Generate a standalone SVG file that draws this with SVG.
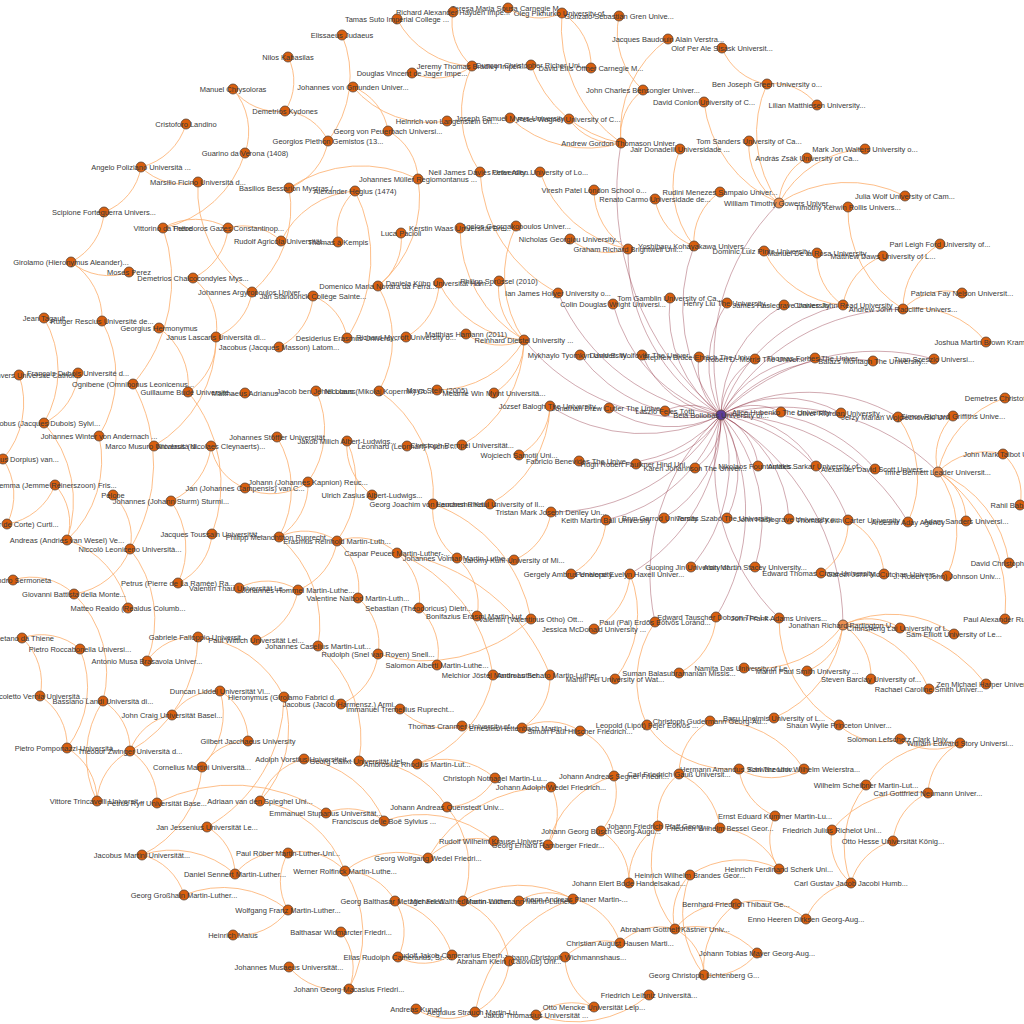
<svg xmlns="http://www.w3.org/2000/svg" width="1024" height="1024" viewBox="0 0 1024 1024">
<style>
.e{fill:none;stroke:#fdae6b;stroke-width:1;opacity:.8}
.m{fill:none;stroke:#8c2d3f;stroke-width:.9;opacity:.45}
.n circle{fill:#d95f0e;stroke:#5a4334;stroke-width:.8}
.n.h circle{fill:#ec8f4f}
.n.b circle{fill:#5e3c99}
.n text{font-family:"Liberation Sans",Arial,sans-serif;font-size:7.5px;fill:#3a3a3a;text-anchor:middle}
</style>
<rect width="1024" height="1024" fill="#fff"/>
<g id="connectors">
<path class="m" d="M721 415A290 290 0 0 1 621 143"/>
<path class="m" d="M721 415A190 190 0 0 1 628 249"/>
<path class="m" d="M721 415A171 171 0 0 1 694 246"/>
<path class="m" d="M721 415A220 220 0 0 1 779 203"/>
<path class="m" d="M721 415A204 204 0 0 1 558 293"/>
<path class="m" d="M721 415A155 155 0 0 1 613 304"/>
<path class="m" d="M721 415A128 128 0 0 1 670 298"/>
<path class="m" d="M721 415A112 112 0 0 1 727 303"/>
<path class="m" d="M721 415A127 127 0 0 1 784 305"/>
<path class="m" d="M721 415A164 164 0 0 1 843 305"/>
<path class="m" d="M721 415A211 211 0 0 1 903 309"/>
<path class="m" d="M721 415A211 211 0 0 1 524 340"/>
<path class="m" d="M721 415A153 153 0 0 1 580 355"/>
<path class="m" d="M721 415A99 99 0 0 1 642 355"/>
<path class="m" d="M721 415A62 62 0 0 1 699 357"/>
<path class="m" d="M721 415A66 66 0 0 1 755 359"/>
<path class="m" d="M721 415A110 110 0 0 1 815 358"/>
<path class="m" d="M721 415A161 161 0 0 1 873 361"/>
<path class="m" d="M721 415A220 220 0 0 1 934 359"/>
<path class="m" d="M721 415A171 171 0 0 1 550 406"/>
<path class="m" d="M721 415A112 112 0 0 1 609 408"/>
<path class="m" d="M721 415A60 60 0 0 1 781 412"/>
<path class="m" d="M721 415A120 120 0 0 1 841 413"/>
<path class="m" d="M721 415A177 177 0 0 1 898 417"/>
<path class="m" d="M721 415A224 224 0 0 1 938 472"/>
<path class="m" d="M721 415A163 163 0 0 1 875 469"/>
<path class="m" d="M721 415A108 108 0 0 1 816 466"/>
<path class="m" d="M721 415A63 63 0 0 1 758 466"/>
<path class="m" d="M721 415A59 59 0 0 1 695 468"/>
<path class="m" d="M721 415A149 149 0 0 1 579 461"/>
<path class="m" d="M721 415A98 98 0 0 1 636 464"/>
<path class="m" d="M721 415A196 196 0 0 1 551 512"/>
<path class="m" d="M721 415A156 156 0 0 1 606 520"/>
<path class="m" d="M721 415A118 118 0 0 1 664 518"/>
<path class="m" d="M721 415A103 103 0 0 1 727 518"/>
<path class="m" d="M721 415A124 124 0 0 1 789 519"/>
<path class="m" d="M721 415A165 165 0 0 1 848 520"/>
<path class="m" d="M721 415A215 215 0 0 1 908 522"/>
<path class="m" d="M721 415A155 155 0 0 1 691 567"/>
<path class="m" d="M721 415A156 156 0 0 1 755 567"/>
<path class="m" d="M721 415A183 183 0 0 1 630 574"/>
<path class="m" d="M721 415A243 243 0 0 1 843 625"/>
<path class="m" d="M721 415A202 202 0 0 1 716 617"/>
<path class="m" d="M655 622A217 217 0 0 1 721 415"/>
<path class="m" d="M665 411A56 56 0 0 1 721 415"/>
<path class="m" d="M779 618A211 211 0 0 1 721 415"/>
<path class="e" d="M621 143A114 114 0 0 1 668 39"/>
<path class="e" d="M621 143A57 57 0 0 1 643 90"/>
<path class="e" d="M621 143A143 143 0 0 1 562 13"/>
<path class="e" d="M621 143A119 119 0 0 1 531 65"/>
<path class="e" d="M621 143A57 57 0 0 1 569 119"/>
<path class="e" d="M621 143A114 114 0 0 1 510 118"/>
<path class="e" d="M643 90A78 78 0 0 1 619 16"/>
<path class="e" d="M562 13A54 54 0 0 1 508 8"/>
<path class="e" d="M562 13A62 62 0 0 1 591 68"/>
<path class="e" d="M628 249A68 68 0 0 1 594 190"/>
<path class="e" d="M628 249A59 59 0 0 1 570 239"/>
<path class="e" d="M628 249A117 117 0 0 1 540 172"/>
<path class="e" d="M694 246A60 60 0 0 1 720 192"/>
<path class="e" d="M694 246A61 61 0 0 1 655 199"/>
<path class="e" d="M694 246A98 98 0 0 1 680 149"/>
<path class="e" d="M779 203A126 126 0 0 1 704 102"/>
<path class="e" d="M779 203A69 69 0 0 1 749 141"/>
<path class="e" d="M779 203A120 120 0 0 1 767 84"/>
<path class="e" d="M779 203A53 53 0 0 1 807 158"/>
<path class="e" d="M779 203A102 102 0 0 1 865 149"/>
<path class="e" d="M779 203A126 126 0 0 1 905 196"/>
<path class="e" d="M767 84A58 58 0 0 1 722 48"/>
<path class="e" d="M767 84A54 54 0 0 1 817 105"/>
<path class="e" d="M843 305A63 63 0 0 1 883 256"/>
<path class="e" d="M843 305A58 58 0 0 1 817 253"/>
<path class="e" d="M843 305A96 96 0 0 1 764 251"/>
<path class="e" d="M903 309A75 75 0 0 1 940 244"/>
<path class="e" d="M903 309A61 61 0 0 1 962 293"/>
<path class="e" d="M903 309A89 89 0 0 1 986 342"/>
<path class="e" d="M903 309A116 116 0 0 1 848 207"/>
<path class="e" d="M558 293A144 144 0 0 1 480 172"/>
<path class="e" d="M480 172A106 106 0 0 1 472 66"/>
<path class="e" d="M472 66A88 88 0 0 1 397 19"/>
<path class="e" d="M472 66A57 57 0 0 1 453 12"/>
<path class="e" d="M472 66A60 60 0 0 1 412 73"/>
<path class="e" d="M524 340A102 102 0 0 1 439 283"/>
<path class="e" d="M524 340A64 64 0 0 1 499 281"/>
<path class="e" d="M524 340A58 58 0 0 1 466 334"/>
<path class="e" d="M524 340A100 100 0 0 1 437 390"/>
<path class="e" d="M524 340A61 61 0 0 1 494 393"/>
<path class="e" d="M524 340A129 129 0 0 1 460 228"/>
<path class="e" d="M524 340A114 114 0 0 1 516 226"/>
<path class="e" d="M524 340A122 122 0 0 1 462 445"/>
<path class="e" d="M439 283A63 63 0 0 1 406 337"/>
<path class="e" d="M550 406A58 58 0 0 1 519 455"/>
<path class="e" d="M550 406A115 115 0 0 1 490 504"/>
<path class="e" d="M551 512A61 61 0 0 1 514 560"/>
<path class="e" d="M606 520A64 64 0 0 1 571 574"/>
<path class="e" d="M630 574A66 66 0 0 1 594 629"/>
<path class="e" d="M630 574A106 106 0 0 1 615 679"/>
<path class="e" d="M716 617A67 67 0 0 1 679 673"/>
<path class="e" d="M848 520A60 60 0 0 1 821 573"/>
<path class="e" d="M848 520A65 65 0 0 1 884 574"/>
<path class="e" d="M938 472A100 100 0 0 1 1005 398"/>
<path class="e" d="M938 472A58 58 0 0 1 953 416"/>
<path class="e" d="M938 472A67 67 0 0 1 1003 454"/>
<path class="e" d="M938 472A56 56 0 0 1 966 521"/>
<path class="e" d="M938 472A104 104 0 0 1 947 576"/>
<path class="e" d="M938 472A115 115 0 0 1 1009 563"/>
<path class="e" d="M938 472A162 162 0 0 1 1005 619"/>
<path class="e" d="M1003 454A54 54 0 0 1 1020 505"/>
<path class="e" d="M898 417A105 105 0 0 1 908 522"/>
<path class="e" d="M843 625A57 57 0 0 1 900 628"/>
<path class="e" d="M843 625A111 111 0 0 1 954 634"/>
<path class="e" d="M843 625A58 58 0 0 1 807 671"/>
<path class="e" d="M843 625A61 61 0 0 1 871 679"/>
<path class="e" d="M843 625A107 107 0 0 1 929 689"/>
<path class="e" d="M843 625A155 155 0 0 1 986 684"/>
<path class="e" d="M843 625A108 108 0 0 1 744 668"/>
<path class="e" d="M843 625A116 116 0 0 1 774 718"/>
<path class="e" d="M647 725A103 103 0 0 1 655 622"/>
<path class="e" d="M739 769A102 102 0 0 1 647 725"/>
<path class="e" d="M804 769A65 65 0 0 1 739 769"/>
<path class="e" d="M775 816A59 59 0 0 1 739 769"/>
<path class="e" d="M710 721A106 106 0 0 1 804 769"/>
<path class="e" d="M679 774A61 61 0 0 1 710 721"/>
<path class="e" d="M779 869A53 53 0 0 1 775 816"/>
<path class="e" d="M720 828A72 72 0 0 1 779 869"/>
<path class="e" d="M690 875A89 89 0 0 1 779 869"/>
<path class="e" d="M679 774A68 68 0 0 1 720 828"/>
<path class="e" d="M658 826A56 56 0 0 1 679 774"/>
<path class="e" d="M675 929A104 104 0 0 1 658 826"/>
<path class="e" d="M629 883A64 64 0 0 1 658 826"/>
<path class="e" d="M601 831A59 59 0 0 1 629 883"/>
<path class="e" d="M614 776A57 57 0 0 1 601 831"/>
<path class="e" d="M548 845A95 95 0 0 1 614 776"/>
<path class="e" d="M580 731A56 56 0 0 1 614 776"/>
<path class="e" d="M551 787A58 58 0 0 1 548 845"/>
<path class="e" d="M428 858A142 142 0 0 1 551 787"/>
<path class="e" d="M428 858A68 68 0 0 1 494 841"/>
<path class="e" d="M384 821A112 112 0 0 1 494 841"/>
<path class="e" d="M345 871A84 84 0 0 1 428 858"/>
<path class="e" d="M359 761A99 99 0 0 1 447 807"/>
<path class="e" d="M447 807A95 95 0 0 1 463 901"/>
<path class="e" d="M495 778A56 56 0 0 1 447 807"/>
<path class="e" d="M417 764A79 79 0 0 1 495 778"/>
<path class="e" d="M493 675A117 117 0 0 1 417 764"/>
<path class="e" d="M397 553A155 155 0 0 1 493 675"/>
<path class="e" d="M397 553A196 196 0 0 1 550 675"/>
<path class="e" d="M550 675A60 60 0 0 1 522 728"/>
<path class="e" d="M522 728A58 58 0 0 1 580 731"/>
<path class="e" d="M337 541A61 61 0 0 1 397 553"/>
<path class="e" d="M347 441A100 100 0 0 1 337 541"/>
<path class="e" d="M372 495A60 60 0 0 1 347 441"/>
<path class="e" d="M279 537A58 58 0 0 1 337 541"/>
<path class="e" d="M279 537A116 116 0 0 1 318 646"/>
<path class="e" d="M308 482A62 62 0 0 1 279 537"/>
<path class="e" d="M277 437A100 100 0 0 1 279 537"/>
<path class="e" d="M316 391A91 91 0 0 1 308 482"/>
<path class="e" d="M308 482A63 63 0 0 1 245 488"/>
<path class="e" d="M379 391A125 125 0 0 1 433 504"/>
<path class="e" d="M378 286A105 105 0 0 1 379 391"/>
<path class="e" d="M418 179A114 114 0 0 1 378 286"/>
<path class="e" d="M401 233A58 58 0 0 1 378 286"/>
<path class="e" d="M388 131A57 57 0 0 1 418 179"/>
<path class="e" d="M289 188A129 129 0 0 1 418 179"/>
<path class="e" d="M353 87A56 56 0 0 1 388 131"/>
<path class="e" d="M447 121A100 100 0 0 1 353 87"/>
<path class="e" d="M342 35A107 107 0 0 1 328 141"/>
<path class="e" d="M285 111A52 52 0 0 1 328 141"/>
<path class="e" d="M288 57A54 54 0 0 1 285 111"/>
<path class="e" d="M285 111A56 56 0 0 1 233 89"/>
<path class="e" d="M233 89A65 65 0 0 1 245 153"/>
<path class="e" d="M328 141A61 61 0 0 1 289 188"/>
<path class="e" d="M245 153A111 111 0 0 1 163 228"/>
<path class="e" d="M163 228A65 65 0 0 1 228 228"/>
<path class="e" d="M228 228A55 55 0 0 1 281 241"/>
<path class="e" d="M228 228A61 61 0 0 1 193 278"/>
<path class="e" d="M193 278A63 63 0 0 1 216 337"/>
<path class="e" d="M252 292A58 58 0 0 1 216 337"/>
<path class="e" d="M252 292A123 123 0 0 1 198 182"/>
<path class="e" d="M289 188A110 110 0 0 1 252 292"/>
<path class="e" d="M186 124A62 62 0 0 1 141 167"/>
<path class="e" d="M198 182A59 59 0 0 1 141 167"/>
<path class="e" d="M141 167A58 58 0 0 1 104 212"/>
<path class="e" d="M104 212A60 60 0 0 1 71 262"/>
<path class="e" d="M129 272A59 59 0 0 1 71 262"/>
<path class="e" d="M71 262A67 67 0 0 1 102 321"/>
<path class="e" d="M281 241A89 89 0 0 1 355 191"/>
<path class="e" d="M338 242A54 54 0 0 1 355 191"/>
<path class="e" d="M355 191A147 147 0 0 1 347 338"/>
<path class="e" d="M313 296A54 54 0 0 1 347 338"/>
<path class="e" d="M313 296A61 61 0 0 1 279 347"/>
<path class="e" d="M163 228A159 159 0 0 1 133 384"/>
<path class="e" d="M133 384A165 165 0 0 1 130 549"/>
<path class="e" d="M44 318A105 105 0 0 1 44 423"/>
<path class="e" d="M78 373A60 60 0 0 1 44 423"/>
<path class="e" d="M44 423A119 119 0 0 1 67 540"/>
<path class="e" d="M99 436A109 109 0 0 1 67 540"/>
<path class="e" d="M55 485A56 56 0 0 1 67 540"/>
<path class="e" d="M19 375A86 86 0 0 1 3 459"/>
<path class="e" d="M55 485A62 62 0 0 1 7 524"/>
<path class="e" d="M3 459A65 65 0 0 1 7 524"/>
<path class="e" d="M102 321A115 115 0 0 1 99 436"/>
<path class="e" d="M216 337A125 125 0 0 1 154 446"/>
<path class="e" d="M216 337A62 62 0 0 1 188 392"/>
<path class="e" d="M159 328A70 70 0 0 1 188 392"/>
<path class="e" d="M188 392A144 144 0 0 1 212 534"/>
<path class="e" d="M212 534A60 60 0 0 1 178 583"/>
<path class="e" d="M171 501A82 82 0 0 1 178 583"/>
<path class="e" d="M245 488A54 54 0 0 1 211 446"/>
<path class="e" d="M211 446A68 68 0 0 1 171 501"/>
<path class="e" d="M113 495A57 57 0 0 1 130 549"/>
<path class="e" d="M130 549A113 113 0 0 1 147 661"/>
<path class="e" d="M130 549A72 72 0 0 1 74 594"/>
<path class="e" d="M67 540A91 91 0 0 1 128 608"/>
<path class="e" d="M13 580A62 62 0 0 1 74 594"/>
<path class="e" d="M22 638A59 59 0 0 1 80 649"/>
<path class="e" d="M22 638A61 61 0 0 1 40 696"/>
<path class="e" d="M80 649A100 100 0 0 1 67 748"/>
<path class="e" d="M40 696A59 59 0 0 1 67 748"/>
<path class="e" d="M74 594A111 111 0 0 1 103 701"/>
<path class="e" d="M147 661A56 56 0 0 1 198 637"/>
<path class="e" d="M198 637A105 105 0 0 1 284 697"/>
<path class="e" d="M103 701A57 57 0 0 1 130 751"/>
<path class="e" d="M198 637A133 133 0 0 1 130 751"/>
<path class="e" d="M97 801A100 100 0 0 1 103 701"/>
<path class="e" d="M67 748A61 61 0 0 1 97 801"/>
<path class="e" d="M97 801A60 60 0 0 1 130 751"/>
<path class="e" d="M130 751A59 59 0 0 1 157 803"/>
<path class="e" d="M130 751A55 55 0 0 1 172 715"/>
<path class="e" d="M172 715A54 54 0 0 1 220 691"/>
<path class="e" d="M220 691A78 78 0 0 1 202 767"/>
<path class="e" d="M220 691A57 57 0 0 1 248 741"/>
<path class="e" d="M202 767A53 53 0 0 1 248 741"/>
<path class="e" d="M202 767A107 107 0 0 1 142 855"/>
<path class="e" d="M142 855A95 95 0 0 1 235 874"/>
<path class="e" d="M142 855A58 58 0 0 1 184 895"/>
<path class="e" d="M207 827A55 55 0 0 1 235 874"/>
<path class="e" d="M284 697A107 107 0 0 1 260 801"/>
<path class="e" d="M284 697A151 151 0 0 1 207 827"/>
<path class="e" d="M157 803A169 169 0 0 1 326 813"/>
<path class="e" d="M260 801A110 110 0 0 1 345 871"/>
<path class="e" d="M304 759A101 101 0 0 1 384 821"/>
<path class="e" d="M260 801A61 61 0 0 1 304 759"/>
<path class="e" d="M326 813A59 59 0 0 1 384 821"/>
<path class="e" d="M318 646A122 122 0 0 1 359 761"/>
<path class="e" d="M378 654A62 62 0 0 1 341 704"/>
<path class="e" d="M462 726A64 64 0 0 1 400 709"/>
<path class="e" d="M531 619A157 157 0 0 1 378 654"/>
<path class="e" d="M358 598A60 60 0 0 1 378 654"/>
<path class="e" d="M337 541A61 61 0 0 1 358 598"/>
<path class="e" d="M337 541A63 63 0 0 1 298 590"/>
<path class="e" d="M239 588A59 59 0 0 1 298 590"/>
<path class="e" d="M298 590A65 65 0 0 1 256 640"/>
<path class="e" d="M433 504A151 151 0 0 1 531 619"/>
<path class="e" d="M457 558A59 59 0 0 1 433 504"/>
<path class="e" d="M397 553A59 59 0 0 1 419 608"/>
<path class="e" d="M419 608A60 60 0 0 1 437 665"/>
<path class="e" d="M457 558A61 61 0 0 1 477 616"/>
<path class="e" d="M463 901A110 110 0 0 1 573 899"/>
<path class="e" d="M463 901A76 76 0 0 1 509 961"/>
<path class="e" d="M509 961A61 61 0 0 1 475 1012"/>
<path class="e" d="M475 1012A150 150 0 0 1 573 899"/>
<path class="e" d="M475 1012A59 59 0 0 1 416 1009"/>
<path class="e" d="M519 901A54 54 0 0 1 573 899"/>
<path class="e" d="M573 899A64 64 0 0 1 620 943"/>
<path class="e" d="M565 957A57 57 0 0 1 620 943"/>
<path class="e" d="M594 1007A58 58 0 0 1 565 957"/>
<path class="e" d="M536 1015A59 59 0 0 1 594 1007"/>
<path class="e" d="M649 995A115 115 0 0 1 536 1015"/>
<path class="e" d="M620 943A57 57 0 0 1 675 929"/>
<path class="e" d="M675 929A56 56 0 0 1 690 875"/>
<path class="e" d="M675 929A66 66 0 0 1 736 904"/>
<path class="e" d="M675 929A85 85 0 0 1 757 953"/>
<path class="e" d="M675 929A54 54 0 0 1 704 975"/>
<path class="e" d="M704 975A101 101 0 0 1 690 875"/>
<path class="e" d="M704 975A78 78 0 0 1 736 904"/>
<path class="e" d="M757 953A57 57 0 0 1 704 975"/>
<path class="e" d="M736 904A72 72 0 0 1 806 919"/>
<path class="e" d="M806 919A58 58 0 0 1 851 883"/>
<path class="e" d="M851 883A56 56 0 0 1 832 830"/>
<path class="e" d="M851 883A59 59 0 0 1 893 841"/>
<path class="e" d="M851 883A99 99 0 0 1 866 785"/>
<path class="e" d="M832 830A103 103 0 0 1 928 793"/>
<path class="e" d="M893 841A59 59 0 0 1 928 793"/>
<path class="e" d="M928 793A59 59 0 0 1 960 743"/>
<path class="e" d="M866 785A103 103 0 0 1 960 743"/>
<path class="e" d="M960 743A60 60 0 0 1 900 739"/>
<path class="e" d="M900 739A63 63 0 0 1 839 725"/>
<path class="e" d="M839 725A123 123 0 0 1 779 618"/>
<path class="e" d="M345 871A118 118 0 0 1 349 989"/>
<path class="e" d="M341 932A58 58 0 0 1 349 989"/>
<path class="e" d="M349 989A64 64 0 0 1 289 967"/>
<path class="e" d="M288 910A60 60 0 0 1 233 935"/>
<path class="e" d="M184 895A105 105 0 0 1 288 910"/>
<path class="e" d="M288 910A57 57 0 0 1 288 853"/>
<path class="e" d="M288 853A60 60 0 0 1 345 871"/>
<path class="e" d="M235 874A57 57 0 0 1 288 853"/>
<path class="e" d="M395 901A79 79 0 0 1 452 955"/>
<path class="e" d="M395 901A56 56 0 0 1 398 957"/>
<path class="e" d="M452 955A54 54 0 0 1 398 957"/>
<path class="e" d="M345 871A58 58 0 0 1 395 901"/>
</g>
<g id="nodes">
<g id="n1" class="n" transform="translate(508,8)"><circle r="5"/><text y="2.7">Teresa Maria Sousa Carnegie M...</text></g>
<g id="n2" class="n" transform="translate(453,12)"><circle r="5"/><text y="2.7">Richard Alexander Hayden Impe...</text></g>
<g id="n3" class="n" transform="translate(397,19)"><circle r="5"/><text y="2.7">Tamas  Suto Imperial College ...</text></g>
<g id="n4" class="n" transform="translate(562,13)"><circle r="5"/><text y="2.7">Oleg  Pikhurko University of...</text></g>
<g id="n5" class="n" transform="translate(619,16)"><circle r="5"/><text y="2.7">Gonzalo Sebastián Gren Unive...</text></g>
<g id="n6" class="n" transform="translate(342,35)"><circle r="5"/><text y="2.7">Elissaeus  Judaeus</text></g>
<g id="n7" class="n" transform="translate(668,39)"><circle r="5"/><text y="2.7">Jacques Baudouin Alain Verstra...</text></g>
<g id="n8" class="n" transform="translate(722,48)"><circle r="5"/><text y="2.7">Olof Per Ale Sisask Universit...</text></g>
<g id="n9" class="n" transform="translate(288,57)"><circle r="5"/><text y="2.7">Nilos  Kabasilas</text></g>
<g id="n10" class="n" transform="translate(472,66)"><circle r="5"/><text y="2.7">Jeremy  Thomas Bradley Imperi...</text></g>
<g id="n11" class="n" transform="translate(531,65)"><circle r="5"/><text y="2.7">Duncan Christopher Richer Uni...</text></g>
<g id="n12" class="n" transform="translate(591,68)"><circle r="5"/><text y="2.7">David Ellis Offner Carnegie M...</text></g>
<g id="n13" class="n" transform="translate(412,73)"><circle r="5"/><text y="2.7">Douglas Vincent de Jager Impe...</text></g>
<g id="n14" class="n" transform="translate(767,84)"><circle r="5"/><text y="2.7">Ben Joseph Green University o...</text></g>
<g id="n15" class="n" transform="translate(353,87)"><circle r="5"/><text y="2.7">Johannes   von Gmunden Univer...</text></g>
<g id="n16" class="n" transform="translate(233,89)"><circle r="5"/><text y="2.7">Manuel  Chrysoloras</text></g>
<g id="n17" class="n" transform="translate(643,90)"><circle r="5"/><text y="2.7">John Charles Bensongler Univer...</text></g>
<g id="n18" class="n" transform="translate(704,102)"><circle r="5"/><text y="2.7">David  Conlon University of C...</text></g>
<g id="n19" class="n" transform="translate(817,105)"><circle r="5"/><text y="2.7">Lilian  Matthiesen University...</text></g>
<g id="n20" class="n" transform="translate(285,111)"><circle r="5"/><text y="2.7">Demetrios  Kydones</text></g>
<g id="n21" class="n" transform="translate(510,118)"><circle r="5"/><text y="2.7">Joseph Samuel Myers University</text></g>
<g id="n22" class="n" transform="translate(447,121)"><circle r="5"/><text y="2.7">Heinrich   von Langenstein Un...</text></g>
<g id="n23" class="n" transform="translate(569,119)"><circle r="5"/><text y="2.7">Peter  Wagner University of C...</text></g>
<g id="n24" class="n" transform="translate(186,124)"><circle r="5"/><text y="2.7">Cristoforo  Landino</text></g>
<g id="n25" class="n" transform="translate(388,131)"><circle r="5"/><text y="2.7">Georg  von Peuerbach Universi...</text></g>
<g id="n26" class="n" transform="translate(328,141)"><circle r="5"/><text y="2.7">Georgios Plethon Gemistos (13...</text></g>
<g id="n27" class="n" transform="translate(621,143)"><circle r="5"/><text y="2.7">Andrew Gordon Thomason Univer...</text></g>
<g id="n28" class="n" transform="translate(749,141)"><circle r="5"/><text y="2.7">Tom  Sanders University of Ca...</text></g>
<g id="n29" class="n" transform="translate(680,149)"><circle r="5"/><text y="2.7">Jair  Donadelli Universidade ...</text></g>
<g id="n30" class="n" transform="translate(865,149)"><circle r="5"/><text y="2.7">Mark Jon Walters University o...</text></g>
<g id="n31" class="n" transform="translate(245,153)"><circle r="5"/><text y="2.7">Guarino  da Verona (1408)</text></g>
<g id="n32" class="n" transform="translate(807,158)"><circle r="5"/><text y="2.7">András  Zsák University of Ca...</text></g>
<g id="n33" class="n" transform="translate(141,167)"><circle r="5"/><text y="2.7">Angelo  Poliziano Università ...</text></g>
<g id="n34" class="n" transform="translate(480,172)"><circle r="5"/><text y="2.7">Neil James Davies University...</text></g>
<g id="n35" class="n" transform="translate(540,172)"><circle r="5"/><text y="2.7">Peter  Allen University of Lo...</text></g>
<g id="n36" class="n" transform="translate(418,179)"><circle r="5"/><text y="2.7">Johannes Müller Regiomontanus ...</text></g>
<g id="n37" class="n" transform="translate(198,182)"><circle r="5"/><text y="2.7">Marsilio  Ficino Università d...</text></g>
<g id="n38" class="n" transform="translate(289,188)"><circle r="5"/><text y="2.7">Basilios  Bessarion Mystras /...</text></g>
<g id="n39" class="n" transform="translate(355,191)"><circle r="5"/><text y="2.7">Alexander  Hegius (1474)</text></g>
<g id="n40" class="n" transform="translate(594,190)"><circle r="5"/><text y="2.7">Viresh  Patel London School o...</text></g>
<g id="n41" class="n" transform="translate(720,192)"><circle r="5"/><text y="2.7">Rudini Menezes Sampaio Univer...</text></g>
<g id="n42" class="n" transform="translate(905,196)"><circle r="5"/><text y="2.7">Julia  Wolf University of Cam...</text></g>
<g id="n43" class="n" transform="translate(655,199)"><circle r="5"/><text y="2.7">Renato  Carmo Universidade de...</text></g>
<g id="n44" class="n h" transform="translate(779,203)"><circle r="5"/><text y="2.7">William Timothy Gowers Univer...</text></g>
<g id="n45" class="n" transform="translate(848,207)"><circle r="5"/><text y="2.7">Timothy Kerwin Rollis Univers...</text></g>
<g id="n46" class="n" transform="translate(104,212)"><circle r="5"/><text y="2.7">Scipione  Forteguerra Univers...</text></g>
<g id="n47" class="n" transform="translate(516,226)"><circle r="5"/><text y="2.7">Agelos  Georgakopoulos Univer...</text></g>
<g id="n48" class="n" transform="translate(460,228)"><circle r="5"/><text y="2.7">Kerstin  Waas Universität Bre...</text></g>
<g id="n49" class="n" transform="translate(163,228)"><circle r="5"/><text y="2.7">Vittorino  da Feltre</text></g>
<g id="n50" class="n" transform="translate(228,228)"><circle r="5"/><text y="2.7">Theodoros  Gazes Constantinop...</text></g>
<g id="n51" class="n" transform="translate(401,233)"><circle r="5"/><text y="2.7">Luca  Pacioli</text></g>
<g id="n52" class="n" transform="translate(570,239)"><circle r="5"/><text y="2.7">Nicholas  Georgiou University...</text></g>
<g id="n53" class="n" transform="translate(281,241)"><circle r="5"/><text y="2.7">Rudolf  Agricola Universität...</text></g>
<g id="n54" class="n" transform="translate(338,242)"><circle r="5"/><text y="2.7">Thomas  à Kempis</text></g>
<g id="n55" class="n" transform="translate(940,244)"><circle r="5"/><text y="2.7">Pari Leigh Ford University of...</text></g>
<g id="n56" class="n" transform="translate(694,246)"><circle r="5"/><text y="2.7">Yoshiharu  Kohayakawa Univers...</text></g>
<g id="n57" class="n" transform="translate(628,249)"><circle r="5"/><text y="2.7">Graham Richard Brightwell Uni...</text></g>
<g id="n58" class="n" transform="translate(764,251)"><circle r="5"/><text y="2.7">Dominic Luiz Pinto University...</text></g>
<g id="n59" class="n" transform="translate(817,253)"><circle r="5"/><text y="2.7">Manuel De la Rosa University</text></g>
<g id="n60" class="n" transform="translate(883,256)"><circle r="5"/><text y="2.7">Matthew  Daws University of L...</text></g>
<g id="n61" class="n" transform="translate(71,262)"><circle r="5"/><text y="2.7">Girolamo (Hieronymus Aleander)...</text></g>
<g id="n62" class="n" transform="translate(129,272)"><circle r="5"/><text y="2.7">Moses  Perez</text></g>
<g id="n63" class="n" transform="translate(193,278)"><circle r="5"/><text y="2.7">Demetrios  Chalcocondyles Mys...</text></g>
<g id="n64" class="n" transform="translate(499,281)"><circle r="5"/><text y="2.7">Philipp  Sprüssel (2010)</text></g>
<g id="n65" class="n" transform="translate(439,283)"><circle r="5"/><text y="2.7">Daniela  Kühn Universität Ham...</text></g>
<g id="n66" class="n" transform="translate(378,286)"><circle r="5"/><text y="2.7">Domenico Maria Novara da Ferra...</text></g>
<g id="n67" class="n" transform="translate(252,292)"><circle r="5"/><text y="2.7">Johannes  Argyropoulos Univer...</text></g>
<g id="n68" class="n" transform="translate(962,293)"><circle r="5"/><text y="2.7">Patricia Fay Nelson Universit...</text></g>
<g id="n69" class="n" transform="translate(558,293)"><circle r="5"/><text y="2.7">Ian James Holyer University o...</text></g>
<g id="n70" class="n" transform="translate(313,296)"><circle r="5"/><text y="2.7">Jan  Standonck Collège Sainte...</text></g>
<g id="n71" class="n" transform="translate(670,298)"><circle r="5"/><text y="2.7">Tom  Gamblin University of Ca...</text></g>
<g id="n72" class="n" transform="translate(727,303)"><circle r="5"/><text y="2.7">Henry  Liu The University...</text></g>
<g id="n73" class="n" transform="translate(784,305)"><circle r="5"/><text y="2.7">James  Haslegrave University...</text></g>
<g id="n74" class="n" transform="translate(843,305)"><circle r="5"/><text y="2.7">Charles John Read University</text></g>
<g id="n75" class="n" transform="translate(613,304)"><circle r="5"/><text y="2.7">Colin Douglas Wright Universi...</text></g>
<g id="n76" class="n" transform="translate(903,309)"><circle r="5"/><text y="2.7">Andrew John Radcliffe Univers...</text></g>
<g id="n77" class="n" transform="translate(44,318)"><circle r="5"/><text y="2.7">Jean  Tagault</text></g>
<g id="n78" class="n" transform="translate(102,321)"><circle r="5"/><text y="2.7">Rutger  Rescius Université de...</text></g>
<g id="n79" class="n" transform="translate(159,328)"><circle r="5"/><text y="2.7">Georgius  Hermonymus</text></g>
<g id="n80" class="n" transform="translate(466,334)"><circle r="5"/><text y="2.7">Matthias  Hamann (2011)</text></g>
<g id="n81" class="n" transform="translate(406,337)"><circle r="5"/><text y="2.7">Richard  Mycroft University o...</text></g>
<g id="n82" class="n" transform="translate(216,337)"><circle r="5"/><text y="2.7">Janus  Lascaris Università di...</text></g>
<g id="n83" class="n" transform="translate(347,338)"><circle r="5"/><text y="2.7">Desiderius  Erasmus Universi...</text></g>
<g id="n84" class="n" transform="translate(524,340)"><circle r="5"/><text y="2.7">Reinhard  Diestel University ...</text></g>
<g id="n85" class="n" transform="translate(986,342)"><circle r="5"/><text y="2.7">Joshua Martin Brown Kramer...</text></g>
<g id="n86" class="n" transform="translate(279,347)"><circle r="5"/><text y="2.7">Jacobus (Jacques Masson) Latom...</text></g>
<g id="n87" class="n" transform="translate(580,355)"><circle r="5"/><text y="2.7">Mykhaylo  Tyomkyn University...</text></g>
<g id="n88" class="n" transform="translate(642,355)"><circle r="5"/><text y="2.7">David B. Wolfovitz The Univer...</text></g>
<g id="n89" class="n" transform="translate(699,357)"><circle r="5"/><text y="2.7">Stephen Bruce Ehrlich The Univ...</text></g>
<g id="n90" class="n" transform="translate(755,359)"><circle r="5"/><text y="2.7">Robert D. Morris The Univer...</text></g>
<g id="n91" class="n" transform="translate(815,358)"><circle r="5"/><text y="2.7">Thomas  Forbes The Univer...</text></g>
<g id="n92" class="n" transform="translate(873,361)"><circle r="5"/><text y="2.7">Balazs  Montagh The University...</text></g>
<g id="n93" class="n" transform="translate(934,359)"><circle r="5"/><text y="2.7">Tuan  Szeszlo Universi...</text></g>
<g id="n94" class="n" transform="translate(78,373)"><circle r="5"/><text y="2.7">François  Dubois Université d...</text></g>
<g id="n95" class="n" transform="translate(19,375)"><circle r="5"/><text y="2.7">Jan Briart Anvers Université Cathol...</text></g>
<g id="n96" class="n" transform="translate(133,384)"><circle r="5"/><text y="2.7">Ognibene (Omnibonus Leonicenus...</text></g>
<g id="n97" class="n" transform="translate(188,392)"><circle r="5"/><text y="2.7">Guillaume  Budé Université...</text></g>
<g id="n98" class="n" transform="translate(245,393)"><circle r="5"/><text y="2.7">Matthaeus  Adrianus</text></g>
<g id="n99" class="n" transform="translate(316,391)"><circle r="5"/><text y="2.7">Jacob ben Jehiel  Loans</text></g>
<g id="n100" class="n" transform="translate(379,391)"><circle r="5"/><text y="2.7">Nicolaus (Mikołaj Kopernik) Co...</text></g>
<g id="n101" class="n" transform="translate(437,390)"><circle r="5"/><text y="2.7">Maya  Stein (2005)</text></g>
<g id="n102" class="n" transform="translate(494,393)"><circle r="5"/><text y="2.7">Melanie  Win Myint Universitä...</text></g>
<g id="n103" class="n" transform="translate(1005,398)"><circle r="5"/><text y="2.7">Demetres  Christofides...</text></g>
<g id="n104" class="n" transform="translate(550,406)"><circle r="5"/><text y="2.7">József  Balogh The University...</text></g>
<g id="n105" class="n" transform="translate(609,408)"><circle r="5"/><text y="2.7">Jonathan Drew Cutler The Unive...</text></g>
<g id="n106" class="n" transform="translate(665,411)"><circle r="5"/><text y="2.7">László  Fejes Tóth</text></g>
<g id="n108" class="n" transform="translate(781,412)"><circle r="5"/><text y="2.7">Alice  Hubenko The University</text></g>
<g id="n109" class="n" transform="translate(841,413)"><circle r="5"/><text y="2.7">Oliver  Riordan University...</text></g>
<g id="n110" class="n" transform="translate(898,417)"><circle r="5"/><text y="2.7">Jerzy Marian Wojciechowski Uni...</text></g>
<g id="n111" class="n" transform="translate(953,416)"><circle r="5"/><text y="2.7">Simon Richard Griffiths Unive...</text></g>
<g id="n112" class="n" transform="translate(44,423)"><circle r="5"/><text y="2.7">Jacobus (Jacques Dubois) Sylvi...</text></g>
<g id="n113" class="n" transform="translate(99,436)"><circle r="5"/><text y="2.7">Johannes Winter von Andernach ...</text></g>
<g id="n114" class="n" transform="translate(277,437)"><circle r="5"/><text y="2.7">Johannes  Stöffler Universität</text></g>
<g id="n115" class="n" transform="translate(347,441)"><circle r="5"/><text y="2.7">Jakob  Milich Albert-Ludwigs...</text></g>
<g id="n116" class="n" transform="translate(154,446)"><circle r="5"/><text y="2.7">Marco  Musuro Università di...</text></g>
<g id="n117" class="n" transform="translate(211,446)"><circle r="5"/><text y="2.7">Nicolaus (Nicolaes Cleynaerts)...</text></g>
<g id="n118" class="n" transform="translate(407,446)"><circle r="5"/><text y="2.7">Leonhard (Leonhart) Fuchs ...</text></g>
<g id="n119" class="n" transform="translate(462,445)"><circle r="5"/><text y="2.7">Christoph  Rempel Universität...</text></g>
<g id="n120" class="n" transform="translate(1003,454)"><circle r="5"/><text y="2.7">John Mark Talbot Univ...</text></g>
<g id="n121" class="n" transform="translate(519,455)"><circle r="5"/><text y="2.7">Wojciech  Samotij Uni...</text></g>
<g id="n122" class="n" transform="translate(3,459)"><circle r="5"/><text y="2.7">Maarten (Martinus Dorpius) van...</text></g>
<g id="n123" class="n" transform="translate(579,461)"><circle r="5"/><text y="2.7">Fabricio  Benevides The Unive...</text></g>
<g id="n124" class="n" transform="translate(636,464)"><circle r="5"/><text y="2.7">Hugh Robert Faulkner Hind Uni...</text></g>
<g id="n125" class="n" transform="translate(816,466)"><circle r="5"/><text y="2.7">Amites  Sarkar University of...</text></g>
<g id="n126" class="n" transform="translate(758,466)"><circle r="5"/><text y="2.7">Nikolaos  Fountoulakis...</text></g>
<g id="n127" class="n" transform="translate(695,468)"><circle r="5"/><text y="2.7">Karen  Johannson The Univer...</text></g>
<g id="n128" class="n" transform="translate(875,469)"><circle r="5"/><text y="2.7">Alexander David Scott Univers...</text></g>
<g id="n129" class="n h" transform="translate(938,472)"><circle r="5"/><text y="2.7">Imre Bennett Leader Universit...</text></g>
<g id="n130" class="n" transform="translate(308,482)"><circle r="5"/><text y="2.7">Johann (Johannes Kapnion) Reuc...</text></g>
<g id="n131" class="n" transform="translate(55,485)"><circle r="5"/><text y="2.7">Gemma (Jemme Reinerszoon) Fris...</text></g>
<g id="n132" class="n" transform="translate(245,488)"><circle r="5"/><text y="2.7">Jan (Johannes Campensis) van C...</text></g>
<g id="n133" class="n" transform="translate(113,495)"><circle r="5"/><text y="2.7">Pelope</text></g>
<g id="n134" class="n" transform="translate(372,495)"><circle r="5"/><text y="2.7">Ulrich  Zasius Albert-Ludwigs...</text></g>
<g id="n135" class="n" transform="translate(171,501)"><circle r="5"/><text y="2.7">Johannes (Johann Sturm) Sturmi...</text></g>
<g id="n136" class="n" transform="translate(433,504)"><circle r="5"/><text y="2.7">Georg Joachim von Lauchen Rheticus</text></g>
<g id="n137" class="n" transform="translate(490,504)"><circle r="5"/><text y="2.7">Hemanshu  Kaul University of Il...</text></g>
<g id="n138" class="n" transform="translate(1020,505)"><circle r="5"/><text y="2.7">Rahil  Baber Uni...</text></g>
<g id="n139" class="n" transform="translate(551,512)"><circle r="5"/><text y="2.7">Tristan Mark Joseph Denley Un...</text></g>
<g id="n140" class="n" transform="translate(606,520)"><circle r="5"/><text y="2.7">Keith Martin Ball University</text></g>
<g id="n141" class="n" transform="translate(664,518)"><circle r="5"/><text y="2.7">Bryn  Garrod University ...</text></g>
<g id="n142" class="n" transform="translate(727,518)"><circle r="5"/><text y="2.7">Tamás  Szabó The University...</text></g>
<g id="n143" class="n" transform="translate(789,519)"><circle r="5"/><text y="2.7">John  Haslegrave University o...</text></g>
<g id="n144" class="n" transform="translate(848,520)"><circle r="5"/><text y="2.7">Thomas Keith Carter University</text></g>
<g id="n145" class="n" transform="translate(908,522)"><circle r="5"/><text y="2.7">Ardeshir  Aday Agency</text></g>
<g id="n146" class="n" transform="translate(966,521)"><circle r="5"/><text y="2.7">Adam  Sanders Universi...</text></g>
<g id="n147" class="n" transform="translate(7,524)"><circle r="5"/><text y="2.7">Petrus (Pieter de Corte) Curti...</text></g>
<g id="n148" class="n" transform="translate(212,534)"><circle r="5"/><text y="2.7">Jacques  Toussain Universität...</text></g>
<g id="n149" class="n" transform="translate(279,537)"><circle r="5"/><text y="2.7">Philipp  Melanchthon Ruprecht...</text></g>
<g id="n150" class="n" transform="translate(67,540)"><circle r="5"/><text y="2.7">Andreas (Andries van Wesel) Ve...</text></g>
<g id="n151" class="n" transform="translate(337,541)"><circle r="5"/><text y="2.7">Erasmus  Reinhold Martin-Luth...</text></g>
<g id="n152" class="n" transform="translate(130,549)"><circle r="5"/><text y="2.7">Niccolò  Leoniceno Università...</text></g>
<g id="n153" class="n" transform="translate(397,553)"><circle r="5"/><text y="2.7">Caspar  Peucer Martin-Luther-...</text></g>
<g id="n154" class="n" transform="translate(457,558)"><circle r="5"/><text y="2.7">Johannes  Volmar Martin-Luthe...</text></g>
<g id="n155" class="n" transform="translate(514,560)"><circle r="5"/><text y="2.7">Jaromy  Kuhl University of Mi...</text></g>
<g id="n156" class="n" transform="translate(1009,563)"><circle r="5"/><text y="2.7">David Christopher Ell...</text></g>
<g id="n157" class="n" transform="translate(691,567)"><circle r="5"/><text y="2.7">Guoping  Jin University of ...</text></g>
<g id="n158" class="n" transform="translate(755,567)"><circle r="5"/><text y="2.7">Alan Martin Stacey University...</text></g>
<g id="n159" class="n" transform="translate(571,574)"><circle r="5"/><text y="2.7">Gergely  Ambrus University...</text></g>
<g id="n160" class="n" transform="translate(630,574)"><circle r="5"/><text y="2.7">Penelope Evelyn Haxell Univer...</text></g>
<g id="n161" class="n" transform="translate(821,573)"><circle r="5"/><text y="2.7">Edward Thomas Crane University...</text></g>
<g id="n162" class="n" transform="translate(884,574)"><circle r="5"/><text y="2.7">Gareth John McCutchan Univers...</text></g>
<g id="n163" class="n" transform="translate(947,576)"><circle r="5"/><text y="2.7">J. Robert (John) Johnson Univ...</text></g>
<g id="n164" class="n" transform="translate(13,580)"><circle r="5"/><text y="2.7">Alessandro  Sermoneta</text></g>
<g id="n165" class="n" transform="translate(178,583)"><circle r="5"/><text y="2.7">Petrus (Pierre de La Ramée) Ra...</text></g>
<g id="n166" class="n" transform="translate(239,588)"><circle r="5"/><text y="2.7">Valentin  Thau Universität Le...</text></g>
<g id="n167" class="n" transform="translate(298,590)"><circle r="5"/><text y="2.7">Johannes  Hommel Martin-Luthe...</text></g>
<g id="n168" class="n" transform="translate(74,594)"><circle r="5"/><text y="2.7">Giovanni Battista  della Monte...</text></g>
<g id="n169" class="n" transform="translate(358,598)"><circle r="5"/><text y="2.7">Valentine  Naibod Martin-Luth...</text></g>
<g id="n170" class="n" transform="translate(128,608)"><circle r="5"/><text y="2.7">Matteo Realdo (Realdus Columb...</text></g>
<g id="n171" class="n" transform="translate(419,608)"><circle r="5"/><text y="2.7">Sebastian (Theodoricus) Dietri...</text></g>
<g id="n172" class="n" transform="translate(477,616)"><circle r="5"/><text y="2.7">Bonifazius  Erasmi Martin-Lut...</text></g>
<g id="n173" class="n" transform="translate(716,617)"><circle r="5"/><text y="2.7">Edward Tauscher Dobson The Le...</text></g>
<g id="n174" class="n" transform="translate(779,618)"><circle r="5"/><text y="2.7">John Frank Adams Univers...</text></g>
<g id="n175" class="n" transform="translate(531,619)"><circle r="5"/><text y="2.7">Valentin (Valentinus Otho) Ott...</text></g>
<g id="n176" class="n" transform="translate(1005,619)"><circle r="5"/><text y="2.7">Paul Alexander Russell...</text></g>
<g id="n177" class="n" transform="translate(655,622)"><circle r="5"/><text y="2.7">Paul (Pál) Erdős Eötvös Loránd...</text></g>
<g id="n178" class="n h" transform="translate(843,625)"><circle r="5"/><text y="2.7">Jonathan Richard Partington U...</text></g>
<g id="n179" class="n" transform="translate(900,628)"><circle r="5"/><text y="2.7">Chunsheng  Lai University of L...</text></g>
<g id="n180" class="n" transform="translate(594,629)"><circle r="5"/><text y="2.7">Jessica  McDonald University ...</text></g>
<g id="n181" class="n" transform="translate(954,634)"><circle r="5"/><text y="2.7">Sam  Elliott University of Le...</text></g>
<g id="n182" class="n" transform="translate(22,638)"><circle r="5"/><text y="2.7">Gaetano  da Thiene</text></g>
<g id="n183" class="n" transform="translate(198,637)"><circle r="5"/><text y="2.7">Gabriele  Falloppio Universit...</text></g>
<g id="n184" class="n" transform="translate(256,640)"><circle r="5"/><text y="2.7">Paul  Wittich Universität Lei...</text></g>
<g id="n185" class="n" transform="translate(318,646)"><circle r="5"/><text y="2.7">Johannes  Caselius Martin-Lut...</text></g>
<g id="n186" class="n" transform="translate(80,649)"><circle r="5"/><text y="2.7">Pietro  Roccabonella Universi...</text></g>
<g id="n187" class="n" transform="translate(378,654)"><circle r="5"/><text y="2.7">Rudolph (Snel van Royen) Snell...</text></g>
<g id="n188" class="n" transform="translate(147,661)"><circle r="5"/><text y="2.7">Antonio Musa Brasavola Univer...</text></g>
<g id="n189" class="n" transform="translate(437,665)"><circle r="5"/><text y="2.7">Salomon  Alberti Martin-Luthe...</text></g>
<g id="n190" class="n" transform="translate(744,668)"><circle r="5"/><text y="2.7">Namita  Das University of Le...</text></g>
<g id="n191" class="n" transform="translate(679,673)"><circle r="5"/><text y="2.7">Suman  Balasubramanian Missis...</text></g>
<g id="n192" class="n" transform="translate(493,675)"><circle r="5"/><text y="2.7">Melchior  Jöstel Martin-Luther...</text></g>
<g id="n193" class="n" transform="translate(550,675)"><circle r="5"/><text y="2.7">Andreas  Schato Martin-Luther...</text></g>
<g id="n194" class="n" transform="translate(615,679)"><circle r="5"/><text y="2.7">Martin  Pei University of Wat...</text></g>
<g id="n195" class="n" transform="translate(807,671)"><circle r="5"/><text y="2.7">Martin Paul Smith University ...</text></g>
<g id="n196" class="n" transform="translate(871,679)"><circle r="5"/><text y="2.7">Steven  Barclay University of...</text></g>
<g id="n197" class="n" transform="translate(986,684)"><circle r="5"/><text y="2.7">Zen Michael Harper Univers...</text></g>
<g id="n198" class="n" transform="translate(929,689)"><circle r="5"/><text y="2.7">Rachael Caroline Smith Univer...</text></g>
<g id="n199" class="n" transform="translate(220,691)"><circle r="5"/><text y="2.7">Duncan  Liddel Universität Vi...</text></g>
<g id="n200" class="n" transform="translate(40,696)"><circle r="5"/><text y="2.7">Nicoletto  Vernia Università ...</text></g>
<g id="n201" class="n" transform="translate(284,697)"><circle r="5"/><text y="2.7">Hieronymus (Girolamo Fabrici d...</text></g>
<g id="n202" class="n" transform="translate(103,701)"><circle r="5"/><text y="2.7">Bassiano  Landi Università di...</text></g>
<g id="n203" class="n" transform="translate(341,704)"><circle r="5"/><text y="2.7">Jacobus (Jacob Harmensz.) Armi...</text></g>
<g id="n204" class="n" transform="translate(400,709)"><circle r="5"/><text y="2.7">Immanuel  Tremellius Ruprecht...</text></g>
<g id="n205" class="n" transform="translate(172,715)"><circle r="5"/><text y="2.7">John  Craig Universität Basel...</text></g>
<g id="n206" class="n" transform="translate(774,718)"><circle r="5"/><text y="2.7">Basu  Unelmis University of L...</text></g>
<g id="n207" class="n" transform="translate(710,721)"><circle r="5"/><text y="2.7">Christoph  Gudermann Georg-Au...</text></g>
<g id="n208" class="n" transform="translate(647,725)"><circle r="5"/><text y="2.7">Leopold (Lipót) Fejér Eötvös ...</text></g>
<g id="n209" class="n" transform="translate(839,725)"><circle r="5"/><text y="2.7">Shaun  Wylie Princeton Univer...</text></g>
<g id="n210" class="n" transform="translate(462,726)"><circle r="5"/><text y="2.7">Thomas  Cranmer University of...</text></g>
<g id="n211" class="n" transform="translate(522,728)"><circle r="5"/><text y="2.7">Ernestus  Hettenbach Martin-L...</text></g>
<g id="n212" class="n" transform="translate(580,731)"><circle r="5"/><text y="2.7">Simon Paul Hilscher Friedrich...</text></g>
<g id="n213" class="n" transform="translate(900,739)"><circle r="5"/><text y="2.7">Solomon  Lefschetz Clark Univ...</text></g>
<g id="n214" class="n" transform="translate(248,741)"><circle r="5"/><text y="2.7">Gilbert  Jacchaeus University</text></g>
<g id="n215" class="n" transform="translate(960,743)"><circle r="5"/><text y="2.7">William Edward Story Universi...</text></g>
<g id="n216" class="n" transform="translate(67,748)"><circle r="5"/><text y="2.7">Pietro  Pomponazzi Università...</text></g>
<g id="n217" class="n" transform="translate(130,751)"><circle r="5"/><text y="2.7">Theodor  Zwinger Università d...</text></g>
<g id="n218" class="n" transform="translate(304,759)"><circle r="5"/><text y="2.7">Adolph  Vorstius Universiteit...</text></g>
<g id="n219" class="n" transform="translate(359,761)"><circle r="5"/><text y="2.7">Georg  Calixt Universität Hel...</text></g>
<g id="n220" class="n" transform="translate(417,764)"><circle r="5"/><text y="2.7">Ambrosius  Rhodius Martin-Lut...</text></g>
<g id="n221" class="n" transform="translate(202,767)"><circle r="5"/><text y="2.7">Cornelius  Martini Universitä...</text></g>
<g id="n222" class="n" transform="translate(739,769)"><circle r="5"/><text y="2.7">Hermann Amandus Schwarz Univ...</text></g>
<g id="n223" class="n" transform="translate(804,769)"><circle r="5"/><text y="2.7">Karl Theodor Wilhelm Weierstra...</text></g>
<g id="n224" class="n" transform="translate(679,774)"><circle r="5"/><text y="2.7">Carl Friedrich Gauß Universit...</text></g>
<g id="n225" class="n" transform="translate(614,776)"><circle r="5"/><text y="2.7">Johann Andreas Segner Friedri...</text></g>
<g id="n226" class="n" transform="translate(495,778)"><circle r="5"/><text y="2.7">Christoph  Notnagel Martin-Lu...</text></g>
<g id="n227" class="n" transform="translate(866,785)"><circle r="5"/><text y="2.7">Wilhelm  Scheibner Martin-Lut...</text></g>
<g id="n228" class="n" transform="translate(551,787)"><circle r="5"/><text y="2.7">Johann Adolph Wedel Friedrich...</text></g>
<g id="n229" class="n" transform="translate(928,793)"><circle r="5"/><text y="2.7">Carl Gottfried Neumann Univer...</text></g>
<g id="n230" class="n" transform="translate(97,801)"><circle r="5"/><text y="2.7">Vittore  Trincavelli Universit...</text></g>
<g id="n231" class="n" transform="translate(260,801)"><circle r="5"/><text y="2.7">Adriaan  van den Spieghel Uni...</text></g>
<g id="n232" class="n" transform="translate(157,803)"><circle r="5"/><text y="2.7">Petrus  Ryff Universität Base...</text></g>
<g id="n233" class="n" transform="translate(447,807)"><circle r="5"/><text y="2.7">Johann Andreas Quenstedt Univ...</text></g>
<g id="n234" class="n" transform="translate(326,813)"><circle r="5"/><text y="2.7">Emmanuel  Stupanus Universität...</text></g>
<g id="n235" class="n" transform="translate(775,816)"><circle r="5"/><text y="2.7">Ernst Eduard Kummer Martin-Lu...</text></g>
<g id="n236" class="n" transform="translate(384,821)"><circle r="5"/><text y="2.7">Franciscus de le Boë Sylvius ...</text></g>
<g id="n237" class="n" transform="translate(658,826)"><circle r="5"/><text y="2.7">Johann Friedrich Pfaff Georg...</text></g>
<g id="n238" class="n" transform="translate(207,827)"><circle r="5"/><text y="2.7">Jan  Jessenius Universität Le...</text></g>
<g id="n239" class="n" transform="translate(720,828)"><circle r="5"/><text y="2.7">Friedrich Wilhelm Bessel Geor...</text></g>
<g id="n240" class="n" transform="translate(832,830)"><circle r="5"/><text y="2.7">Friedrich Julius Richelot Uni...</text></g>
<g id="n241" class="n" transform="translate(601,831)"><circle r="5"/><text y="2.7">Johann Georg Büsch Georg-Augu...</text></g>
<g id="n242" class="n" transform="translate(494,841)"><circle r="5"/><text y="2.7">Rudolf Wilhelm Krause Univers...</text></g>
<g id="n243" class="n" transform="translate(893,841)"><circle r="5"/><text y="2.7">Otto  Hesse Universität König...</text></g>
<g id="n244" class="n" transform="translate(548,845)"><circle r="5"/><text y="2.7">Georg Erhard Hamberger Friedr...</text></g>
<g id="n245" class="n" transform="translate(288,853)"><circle r="5"/><text y="2.7">Paul  Röber Martin-Luther-Uni...</text></g>
<g id="n246" class="n" transform="translate(142,855)"><circle r="5"/><text y="2.7">Jacobus   Martini Universität...</text></g>
<g id="n247" class="n" transform="translate(428,858)"><circle r="5"/><text y="2.7">Georg Wolfgang Wedel Friedri...</text></g>
<g id="n248" class="n" transform="translate(345,871)"><circle r="5"/><text y="2.7">Werner  Rolfinck Martin-Luthe...</text></g>
<g id="n249" class="n" transform="translate(779,869)"><circle r="5"/><text y="2.7">Heinrich Ferdinand Scherk Uni...</text></g>
<g id="n250" class="n" transform="translate(235,874)"><circle r="5"/><text y="2.7">Daniel  Sennert Martin-Luther...</text></g>
<g id="n251" class="n" transform="translate(690,875)"><circle r="5"/><text y="2.7">Heinrich Wilhelm Brandes Geor...</text></g>
<g id="n252" class="n" transform="translate(851,883)"><circle r="5"/><text y="2.7">Carl Gustav Jacob Jacobi Humb...</text></g>
<g id="n253" class="n" transform="translate(629,883)"><circle r="5"/><text y="2.7">Johann Elert Bode Handelsakad...</text></g>
<g id="n254" class="n" transform="translate(184,895)"><circle r="5"/><text y="2.7">Georg  Großhain Martin-Luther...</text></g>
<g id="n255" class="n" transform="translate(573,899)"><circle r="5"/><text y="2.7">Johann Andreas Planer Martin-...</text></g>
<g id="n256" class="n" transform="translate(463,901)"><circle r="5"/><text y="2.7">Michael  Walther Martin-Luther...</text></g>
<g id="n257" class="n" transform="translate(519,901)"><circle r="5"/><text y="2.7">Johann  Wichmann Martin-Luther...</text></g>
<g id="n258" class="n" transform="translate(395,901)"><circle r="5"/><text y="2.7">Georg Balthasar Metzger Fried...</text></g>
<g id="n259" class="n" transform="translate(736,904)"><circle r="5"/><text y="2.7">Bernhard Friedrich Thibaut Ge...</text></g>
<g id="n260" class="n" transform="translate(288,910)"><circle r="5"/><text y="2.7">Wolfgang  Franz Martin-Luther...</text></g>
<g id="n261" class="n" transform="translate(806,919)"><circle r="5"/><text y="2.7">Enno Heeren Dirksen Georg-Aug...</text></g>
<g id="n262" class="n" transform="translate(675,929)"><circle r="5"/><text y="2.7">Abraham Gotthelf Kästner Univ...</text></g>
<g id="n263" class="n" transform="translate(341,932)"><circle r="5"/><text y="2.7">Balthasar  Widmarcter Friedri...</text></g>
<g id="n264" class="n" transform="translate(233,935)"><circle r="5"/><text y="2.7">Heinrich  Maius</text></g>
<g id="n265" class="n" transform="translate(620,943)"><circle r="5"/><text y="2.7">Christian August Hausen Marti...</text></g>
<g id="n266" class="n" transform="translate(757,953)"><circle r="5"/><text y="2.7">Johann Tobias Mayer Georg-Aug...</text></g>
<g id="n267" class="n" transform="translate(452,955)"><circle r="5"/><text y="2.7">Rudolf Jakob Camerarius Eberh...</text></g>
<g id="n268" class="n" transform="translate(398,957)"><circle r="5"/><text y="2.7">Elias Rudolph Camerarius, Sr. ...</text></g>
<g id="n269" class="n" transform="translate(565,957)"><circle r="5"/><text y="2.7">Johann Christoph Wichmannshaus...</text></g>
<g id="n270" class="n" transform="translate(509,961)"><circle r="5"/><text y="2.7">Abraham  Klein (Calovius) Uni...</text></g>
<g id="n271" class="n" transform="translate(289,967)"><circle r="5"/><text y="2.7">Johannes  Musaeus Universität...</text></g>
<g id="n272" class="n" transform="translate(704,975)"><circle r="5"/><text y="2.7">Georg Christoph Lichtenberg G...</text></g>
<g id="n273" class="n" transform="translate(349,989)"><circle r="5"/><text y="2.7">Johann Georg Macasius Friedri...</text></g>
<g id="n274" class="n" transform="translate(649,995)"><circle r="5"/><text y="2.7">Friedrich  Leibniz Universitä...</text></g>
<g id="n275" class="n" transform="translate(594,1007)"><circle r="5"/><text y="2.7">Otto  Mencke Universität Leip...</text></g>
<g id="n276" class="n" transform="translate(416,1009)"><circle r="5"/><text y="2.7">Andreas  Kunad</text></g>
<g id="n277" class="n" transform="translate(475,1012)"><circle r="5"/><text y="2.7">Aegidius  Strauch Martin-Lu...</text></g>
<g id="n278" class="n" transform="translate(536,1015)"><circle r="5"/><text y="2.7">Jakob  Thomasius Universität ...</text></g>
<g id="n107" class="n b" transform="translate(721,415)"><circle r="5"/><text y="2.7">Béla  Bollobás University of...</text></g>
</g>
</svg>
